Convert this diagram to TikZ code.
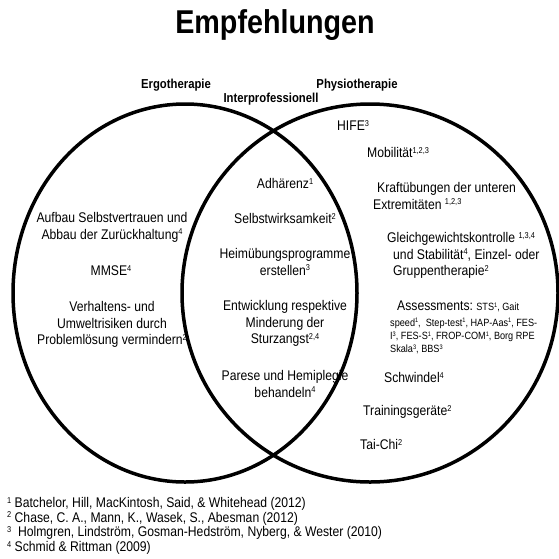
\documentclass[tikz,border=0pt]{standalone}
\usepackage{fontspec}
\setmainfont{Liberation Sans}[FakeStretch=0.87]
\newcommand{\refn}[2][8.5]{\raisebox{0.3em}{\fontsize{#1}{#1}\selectfont #2}}
\begin{document}
\begin{tikzpicture}[x=1pt, y=-1pt,
  ring/.style={line width=3.5pt},
  tx/.style={inner sep=0pt, font=\fontsize{14}{16.8}\selectfont, align=center, anchor=north},
  txl/.style={tx, align=left, anchor=north west},
  hd/.style={inner sep=0pt, font=\fontsize{13}{15}\selectfont\bfseries, anchor=base}]
\useasboundingbox (0,0) rectangle (559,558);
\node[inner sep=0pt, font=\fontsize{33}{33}\selectfont\bfseries, anchor=base] (title) at (275,33) {Empfehlungen};
% the two fields
\draw[ring] (185,293) ellipse [x radius=172pt, y radius=189pt];
\draw[ring] (370,293) ellipse [x radius=188pt, y radius=189pt];
\node[hd] (ergo) at (176,88) {Ergotherapie};
\node[hd] (physio) at (357,88) {Physiotherapie};
\node[hd] (inter) at (271,102) {Interprofessionell};
% Ergotherapie
\node[tx] (vertrauen) at (112,212) {Aufbau Selbstvertrauen und\\Abbau der Zurückhaltung\refn{4}};
\node[tx] (mmse) at (111,265) {MMSE\refn{4}};
\node[tx] (risiken) at (112,301) {Verhaltens- und\\Umweltrisiken durch\\Problemlösung vermindern\refn{2}};
% Interprofessionell
\node[tx] (adh) at (285,178) {Adhärenz\refn{1}};
\node[tx] (selbst) at (285,213) {Selbstwirksamkeit\refn{2}};
\node[tx] (heim) at (285,248) {Heimübungsprogramme\\erstellen\refn{3}};
\node[tx] (angst) at (285,300) {Entwicklung respektive\\Minderung der\\Sturzangst\refn{2,4}};
\node[tx] (parese) at (285,370) {Parese und Hemiplegie\\behandeln\refn{4}};
% Physiotherapie
\node[txl] (hife) at (337,120) {HIFE\refn{3}};
\node[txl] (mob) at (367,147) {Mobilität\refn{1,2,3}};
\node[txl] (kraft) at (373,182) {\hspace*{4pt}Kraftübungen der unteren\\Extremitäten \refn{1,2,3}};
\node[txl] (gleich) at (387,232) {Gleichgewichtskontrolle \refn{1,3,4}\\\hspace*{6pt}und Stabilität\refn{4}, Einzel- oder\\\hspace*{6pt}Gruppentherapie\refn{2}};
\node[txl, font=\fontsize{10.5}{13.2}\selectfont] (assess) at (390,301) {\hspace*{7pt}{\fontsize{14}{14}\selectfont Assessments:} STS\refn[6.5]{1}, Gait\\[2pt]speed\refn[6.5]{1},\ \ Step-test\refn[6.5]{1}, HAP-Aas\refn[6.5]{1}, FES-\\I\refn[6.5]{3}, FES-S\refn[6.5]{1}, FROP-COM\refn[6.5]{1}, Borg RPE\\Skala\refn[6.5]{3}, BBS\refn[6.5]{3}};
\node[txl] (schw) at (384,372) {Schwindel\refn{4}};
\node[txl] (train) at (363,405) {Trainingsgeräte\refn{2}};
\node[txl] (tai) at (360,439) {Tai-Chi\refn{2}};
% Quellen
\node[txl, font=\fontsize{14}{14.7}\selectfont] (quellen) at (7,497) {\refn{1} Batchelor, Hill, MacKintosh, Said, \& Whitehead (2012)\\\refn{2} Chase, C. A., Mann, K., Wasek, S., Abesman (2012)\\\refn{3}\ \ Holmgren, Lindström, Gosman-Hedström, Nyberg, \& Wester (2010)\\\refn{4} Schmid \& Rittman (2009)};
\end{tikzpicture}
\end{document}
